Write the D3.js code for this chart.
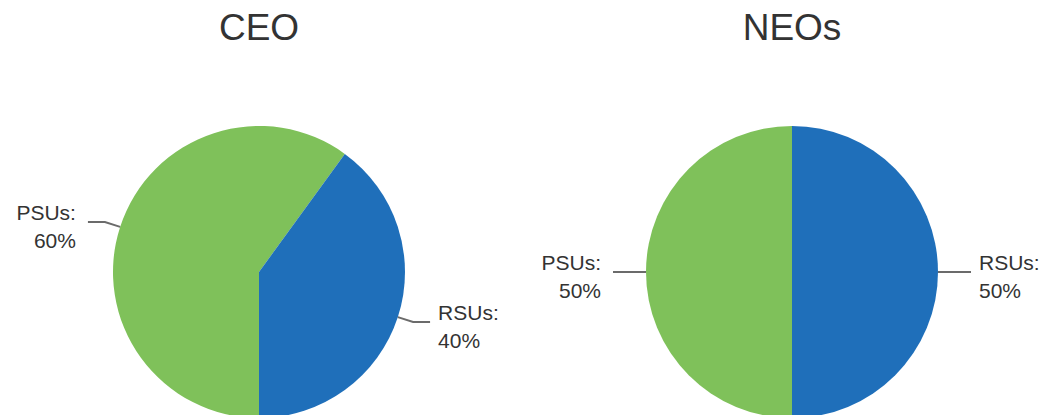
<!DOCTYPE html>
<html>
<head>
<meta charset="utf-8">
<script src="https://cdn.jsdelivr.net/npm/d3@7"></script>
<style>
  body { margin: 0; background: #fff; }
  text { font-family: "Liberation Sans", Arial, sans-serif; fill: #333; }
</style>
</head>
<body>
<div id="chart"></div>
<script>
// data
var charts = ["CEO", "NEOs"];
var categories = ["PSUs", "RSUs"];
var ceoValues = [60, 40];
var neoValues = [50, 50];
var seriesValues = [ceoValues, neoValues];

var colors = { "PSUs": "#7fc15a", "RSUs": "#1f6fba" };

var W = 1043, H = 415;
var radius = 146;
var centersX = [259, 792];
var centerY = 272;

var svg = d3.select("#chart").append("svg")
    .attr("width", W)
    .attr("height", H);

// pie starts at the bottom and goes clockwise, PSUs first
var pie = d3.pie()
    .sort(null)
    .value(function(d) { return d.value; })
    .startAngle(Math.PI)
    .endAngle(3 * Math.PI);

var arc = d3.arc().innerRadius(0).outerRadius(radius);

charts.forEach(function(name, ci) {
    var g = svg.append("g")
        .attr("transform", "translate(" + centersX[ci] + "," + centerY + ")");

    // title
    svg.append("text")
        .attr("x", centersX[ci])
        .attr("y", 40)
        .attr("text-anchor", "middle")
        .style("font-size", "37px")
        .text(name);

    var data = categories.map(function(c, i) {
        return { cat: c, value: seriesValues[ci][i] };
    });

    var slices = pie(data);

    g.selectAll("path")
        .data(slices)
        .enter()
        .append("path")
        .attr("d", arc)
        .style("fill", function(d) { return colors[d.data.cat]; });

    // leader lines + labels
    slices.forEach(function(d) {
        var mid = (d.startAngle + d.endAngle) / 2;
        var sx = Math.sin(mid), sy = -Math.cos(mid);
        var p0 = [sx * radius, sy * radius];
        var p1 = [sx * (radius + 16), sy * (radius + 16)];
        var right = sx > 0;
        var p2 = [p1[0] + (right ? 17 : -17), p1[1]];

        g.append("polyline")
            .attr("points", [p0, p1, p2].map(function(p) { return p.join(","); }).join(" "))
            .style("fill", "none")
            .style("stroke", "#6b6b6b")
            .style("stroke-width", 2);

        var tx = p2[0] + (right ? 8 : -12);
        var t = g.append("text")
            .attr("x", tx)
            .attr("y", p2[1] - 2)
            .attr("text-anchor", right ? "start" : "end")
            .style("font-size", "21px");
        t.append("tspan")
            .attr("x", tx)
            .text(d.data.cat + ":");
        t.append("tspan")
            .attr("x", tx)
            .attr("dy", 28)
            .text(d.data.value + "%");
    });
});
</script>
</body>
</html>
